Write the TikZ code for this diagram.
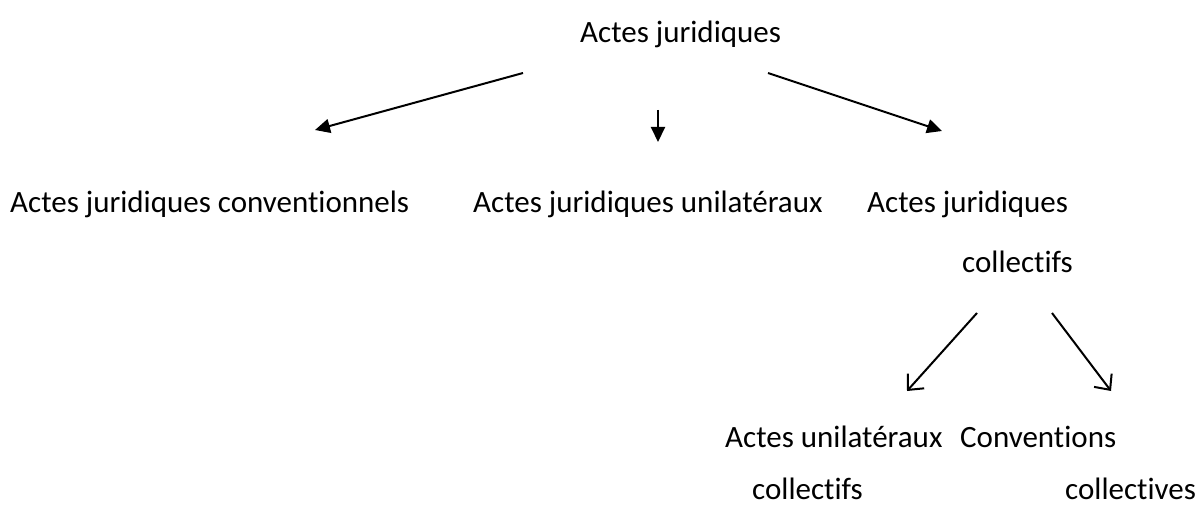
\documentclass[tikz,border=0pt]{standalone}
\usepackage{fontspec}
\setmainfont{Carlito}[RawFeature={-liga;-dlig;-clig}]
\usetikzlibrary{arrows.meta}
\tikzset{
  lbl/.style={anchor=base west, inner sep=0pt, font=\fontsize{31}{37}\selectfont},
  solidarrow/.style={line width=2pt, -{Triangle[length=15pt,width=14pt]}},
  openarrow/.style={line width=2pt, -{Straight Barb[length=12pt,width=22pt,line width=2pt]}}
}
\begin{document}
\begin{tikzpicture}[x=1pt,y=-1pt]
\useasboundingbox (0,0) rectangle (1203,508);
\node[lbl] (root) at (580,43) {Actes juridiques};
\node[lbl] (conv) at (10,213) {Actes juridiques conventionnels};
\node[lbl] (unil) at (473,213) {Actes juridiques unilatéraux};
\node[lbl] (coll) at (867,213) {Actes juridiques};
\node[lbl] (coll2) at (962,272) {collectifs};
\node[lbl] (auc) at (725,447) {Actes unilatéraux};
\node[lbl] (auc2) at (752,499) {collectifs};
\node[lbl] (cc) at (960,447) {Conventions};
\node[lbl] (cc2) at (1065,499) {collectives};
\coordinate (a1s) at (523,73);
\coordinate (a1e) at (315,130);
\coordinate (a2s) at (658,110);
\coordinate (a2e) at (658,142);
\coordinate (a3s) at (768,73);
\coordinate (a3e) at (942,131);
\coordinate (a4s) at (977,313);
\coordinate (a4e) at (907,391);
\coordinate (a5s) at (1052,313);
\coordinate (a5e) at (1111,391);
\draw[solidarrow] (a1s) -- (a1e);
\draw[solidarrow] (a2s) -- (a2e);
\draw[solidarrow] (a3s) -- (a3e);
\draw[openarrow] (a4s) -- (a4e);
\draw[openarrow] (a5s) -- (a5e);
\end{tikzpicture}
\end{document}
